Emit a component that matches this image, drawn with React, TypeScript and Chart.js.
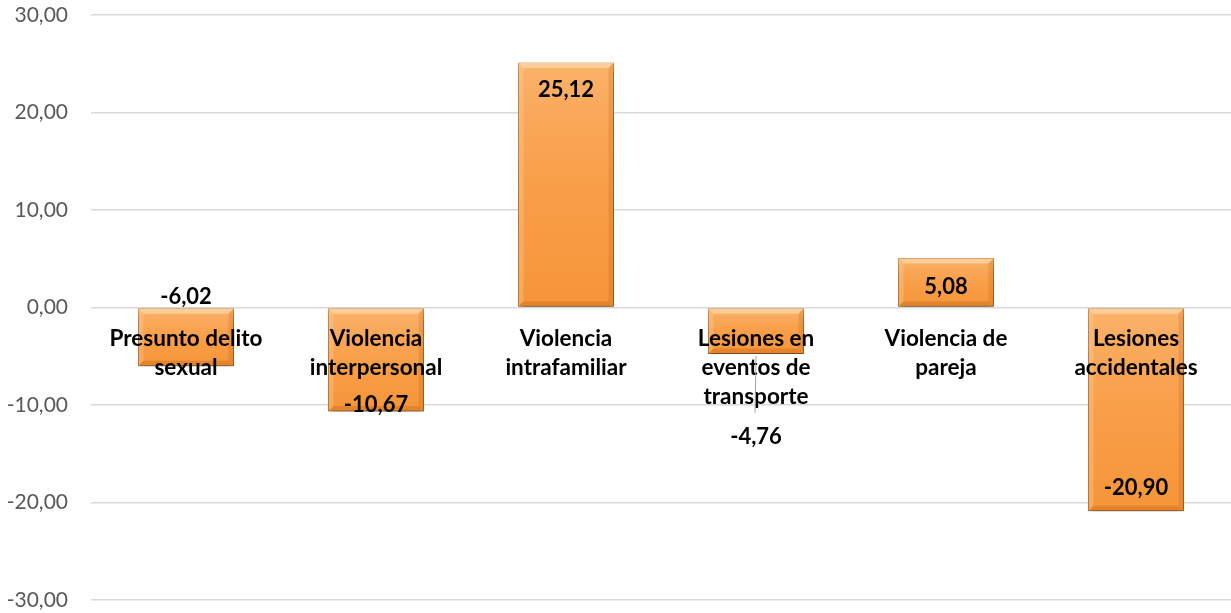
import React, { useEffect, useRef } from "react";
import { Chart, registerables } from "chart.js";

Chart.register(...registerables);

const categories: string[][] = [
  ["Presunto delito", "sexual"],
  ["Violencia", "interpersonal"],
  ["Violencia", "intrafamiliar"],
  ["Lesiones en", "eventos de", "transporte"],
  ["Violencia de", "pareja"],
  ["Lesiones", "accidentales"],
];
const values: number[] = [-6.02, -10.67, 25.12, -4.76, 5.08, -20.9];
const yTicks: number[] = [-30, -20, -10, 0, 10, 20, 30];

const fmt = (v: number) => v.toFixed(2).replace(".", ",");

const FONT = "Lato, 'Open Sans', sans-serif";

const barFx = {
  id: "barFx",
  beforeDatasetsDraw(chart: any) {
    const ctx = chart.ctx;
    ctx.save();
    ctx.shadowColor = "rgba(0,0,0,0.55)";
    ctx.shadowBlur = 8;
    ctx.shadowOffsetX = 1;
    ctx.shadowOffsetY = 5;
  },
  afterDatasetsDraw(chart: any) {
    const ctx = chart.ctx;
    ctx.restore();
    const meta = chart.getDatasetMeta(0);
    const b = 5;
    meta.data.forEach((el: any) => {
      const { x, y, base, width } = el.getProps(["x", "y", "base", "width"], true);
      const l = x - width / 2 + 0.5;
      const r = x + width / 2 - 0.5;
      const t = Math.min(y, base) + 0.5;
      const bt = Math.max(y, base) - 0.5;
      const g = ctx.createLinearGradient(0, t, 0, bt);
      g.addColorStop(0, "rgba(255,215,170,0.4)");
      g.addColorStop(0.5, "rgba(255,200,150,0.1)");
      g.addColorStop(1, "rgba(230,110,0,0.12)");
      ctx.fillStyle = g;
      ctx.fillRect(l, t, r - l, bt - t);
      const poly = (pts: number[][], c: string) => {
        ctx.beginPath();
        ctx.moveTo(pts[0][0], pts[0][1]);
        for (let i = 1; i < pts.length; i++) ctx.lineTo(pts[i][0], pts[i][1]);
        ctx.closePath();
        ctx.fillStyle = c;
        ctx.fill();
      };
      poly([[l, t], [r, t], [r - b, t + b], [l + b, t + b]], "rgba(255,225,185,0.6)");
      poly([[l, bt], [r, bt], [r - b, bt - b], [l + b, bt - b]], "rgba(170,80,0,0.25)");
      poly([[l, t], [l + b, t + b], [l + b, bt - b], [l, bt]], "rgba(255,215,170,0.3)");
      poly([[r, t], [r - b, t + b], [r - b, bt - b], [r, bt]], "rgba(170,80,0,0.18)");
    });
  },
};

const labelsPlugin = {
  id: "labelsPlugin",
  afterDraw(chart: any, _args: any, opts: any) {
    const ctx = chart.ctx;
    const meta = chart.getDatasetMeta(0);
    const yScale = chart.scales.y;
    const zero = yScale.getPixelForValue(0);
    ctx.save();
    ctx.textAlign = "center";
    ctx.textBaseline = "middle";
    ctx.fillStyle = "#000";
    meta.data.forEach((el: any, i: number) => {
      const { x, y, base } = el.getProps(["x", "y", "base"], true);
      ctx.font = `bold ${opts.catSize}px ${FONT}`;
      categories[i].forEach((line, k) => {
        ctx.fillText(line, x, zero + opts.catStart + k * opts.lineHeight);
      });
      const off = opts.offsets[i];
      const ly = y + off;
      if (values[i] < 0 && off > 60) {
        ctx.strokeStyle = "#A6A6A6";
        ctx.lineWidth = 1;
        ctx.beginPath();
        ctx.moveTo(x, Math.max(y, base) + 2);
        ctx.lineTo(x - 1, ly - 24);
        ctx.stroke();
      }
      ctx.font = `bold ${opts.valSize}px ${FONT}`;
      ctx.fillText(fmt(values[i]), x, ly);
    });
    ctx.restore();
  },
};

export default function App() {
  const ref = useRef<HTMLCanvasElement | null>(null);
  useEffect(() => {
    document.body.style.margin = "0";
    const canvas = ref.current!;
    const chart = new Chart(canvas, {
      type: "bar",
      data: {
        labels: categories.map((c) => c.join(" ")),
        datasets: [
          {
            data: values,
            backgroundColor: "#F89A40",
            borderColor: "#C97A36",
            borderWidth: 1,
            borderSkipped: false,
            categoryPercentage: 1,
            barPercentage: 0.505,
          },
        ],
      },
      options: {
        animation: false,
        responsive: false,
        maintainAspectRatio: false,
        layout: { padding: { top: 15, bottom: 13, left: 0, right: 0 } },
        plugins: {
          legend: { display: false },
          tooltip: { enabled: false },
          labelsPlugin: {
            catSize: 22.5,
            valSize: 22,
            catStart: 31,
            lineHeight: 29,
            offsets: [-69, -7, 27, 83, 29, -23],
          },
        } as any,
        scales: {
          x: { display: false, grid: { display: false } },
          y: {
            min: -30,
            max: 30,
            afterBuildTicks: (s: any) => {
              s.ticks = yTicks.map((v) => ({ value: v }));
            },
            afterFit: (s: any) => {
              s.width = 91;
              s.paddingTop = 0;
              s.paddingBottom = 0;
            },
            border: { display: false },
            grid: { color: "#D9D9D9", lineWidth: 1.5, drawTicks: false },
            ticks: {
              padding: 23,
              color: "#595959",
              font: { family: FONT, size: 21 },
              callback: (v: any) => fmt(Number(v)),
            },
          },
        },
      },
      plugins: [barFx, labelsPlugin],
    });
    return () => chart.destroy();
  }, []);
  return (
    <div style={{ width: 1231, height: 613 }}>
      <canvas ref={ref} width={1231} height={613} style={{ display: "block" }} />
    </div>
  );
}
